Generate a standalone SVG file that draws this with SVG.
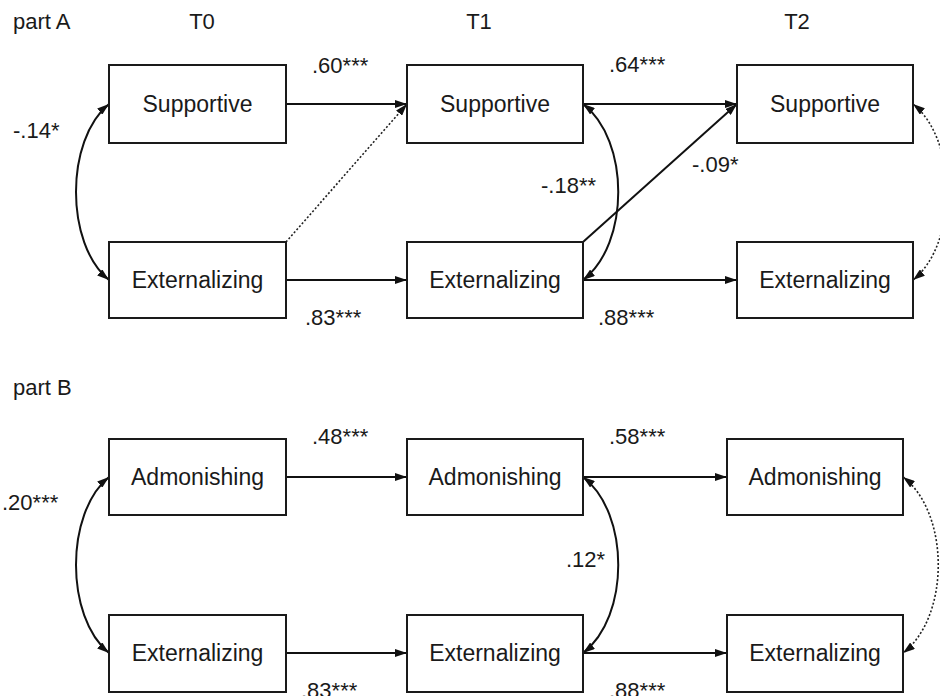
<svg xmlns="http://www.w3.org/2000/svg" width="940" height="696" viewBox="0 0 940 696">
<style>
text{font-family:"Liberation Sans",Arial,sans-serif;font-size:22px;fill:#1a1a1a}
.c{text-anchor:middle}
.n{font-size:23px}
.box{fill:#fff;stroke:#1a1a1a;stroke-width:2}
.ln{fill:none;stroke:#111;stroke-width:2}
.dt{fill:none;stroke:#222;stroke-width:1.6;stroke-dasharray:2 2}
</style>
<defs>
<marker id="ah" viewBox="0 0 12 8" refX="12" refY="4" markerWidth="12" markerHeight="8" markerUnits="userSpaceOnUse" orient="auto-start-reverse">
<path d="M0,0 L12,4 L0,8 z" fill="#111"/>
</marker>
</defs>
<rect width="940" height="696" fill="#fff"/>
<g id="headers">
<text x="13" y="29">part A</text>
<text class="c" x="202" y="29">T0</text>
<text class="c" x="479" y="29">T1</text>
<text class="c" x="797" y="29">T2</text>
<text x="13" y="395">part B</text>
</g>
<g id="connectors">
<line class="ln" x1="286" y1="104" x2="407" y2="104" marker-end="url(#ah)"/>
<line class="ln" x1="286" y1="280" x2="407" y2="280" marker-end="url(#ah)"/>
<line class="dt" x1="286" y1="242" x2="407" y2="104" marker-end="url(#ah)"/>
<line class="ln" x1="583" y1="104" x2="737" y2="104" marker-end="url(#ah)"/>
<line class="ln" x1="583" y1="280" x2="737" y2="280" marker-end="url(#ah)"/>
<line class="ln" x1="583" y1="242" x2="737" y2="104" marker-end="url(#ah)"/>
<path class="ln" d="M109,104 C65,140 65,244 109,280" marker-start="url(#ah)" marker-end="url(#ah)"/>
<path class="ln" d="M583,104 C630,140 630,244 583,280" marker-start="url(#ah)" marker-end="url(#ah)"/>
<path class="dt" d="M913,104 C958,140 958,244 913,280" marker-start="url(#ah)" marker-end="url(#ah)"/>
<line class="ln" x1="286" y1="477" x2="407" y2="477" marker-end="url(#ah)"/>
<line class="ln" x1="286" y1="653" x2="407" y2="653" marker-end="url(#ah)"/>
<line class="ln" x1="583" y1="477" x2="727" y2="477" marker-end="url(#ah)"/>
<line class="ln" x1="583" y1="653" x2="727" y2="653" marker-end="url(#ah)"/>
<path class="ln" d="M109,477 C65,513 65,617 109,653" marker-start="url(#ah)" marker-end="url(#ah)"/>
<path class="ln" d="M583,477 C630,513 630,617 583,653" marker-start="url(#ah)" marker-end="url(#ah)"/>
<path class="dt" d="M903,477 C950,513 950,617 903,653" marker-start="url(#ah)" marker-end="url(#ah)"/>
</g>
<g id="labels">
<text x="312" y="73">.60***</text>
<text x="609" y="72">.64***</text>
<text x="541" y="193">-.18**</text>
<text x="692" y="172">-.09*</text>
<text x="305" y="325">.83***</text>
<text x="598" y="325">.88***</text>
<text x="13" y="138">-.14*</text>
<text x="2" y="510">.20***</text>
<text x="312" y="444">.48***</text>
<text x="609" y="444">.58***</text>
<text x="566" y="567">.12*</text>
<text x="301" y="698">.83***</text>
<text x="609" y="698">.88***</text>
</g>
<g id="a_t0_sup"><rect class="box" x="109" y="65" width="177" height="78"/><text class="c n" x="197.5" y="112">Supportive</text></g>
<g id="a_t0_ext"><rect class="box" x="109" y="242" width="177" height="76"/><text class="c n" x="197.5" y="288">Externalizing</text></g>
<g id="a_t1_sup"><rect class="box" x="407" y="65" width="176" height="78"/><text class="c n" x="495" y="112">Supportive</text></g>
<g id="a_t1_ext"><rect class="box" x="407" y="242" width="176" height="76"/><text class="c n" x="495" y="288">Externalizing</text></g>
<g id="a_t2_sup"><rect class="box" x="737" y="65" width="176" height="78"/><text class="c n" x="825" y="112">Supportive</text></g>
<g id="a_t2_ext"><rect class="box" x="737" y="242" width="176" height="76"/><text class="c n" x="825" y="288">Externalizing</text></g>
<g id="b_t0_adm"><rect class="box" x="109" y="439" width="177" height="76"/><text class="c n" x="197.5" y="485">Admonishing</text></g>
<g id="b_t0_ext"><rect class="box" x="109" y="615" width="177" height="77"/><text class="c n" x="197.5" y="661">Externalizing</text></g>
<g id="b_t1_adm"><rect class="box" x="407" y="439" width="176" height="76"/><text class="c n" x="495" y="485">Admonishing</text></g>
<g id="b_t1_ext"><rect class="box" x="407" y="615" width="176" height="77"/><text class="c n" x="495" y="661">Externalizing</text></g>
<g id="b_t2_adm"><rect class="box" x="727" y="439" width="176" height="76"/><text class="c n" x="815" y="485">Admonishing</text></g>
<g id="b_t2_ext"><rect class="box" x="727" y="615" width="176" height="77"/><text class="c n" x="815" y="661">Externalizing</text></g>
</svg>
